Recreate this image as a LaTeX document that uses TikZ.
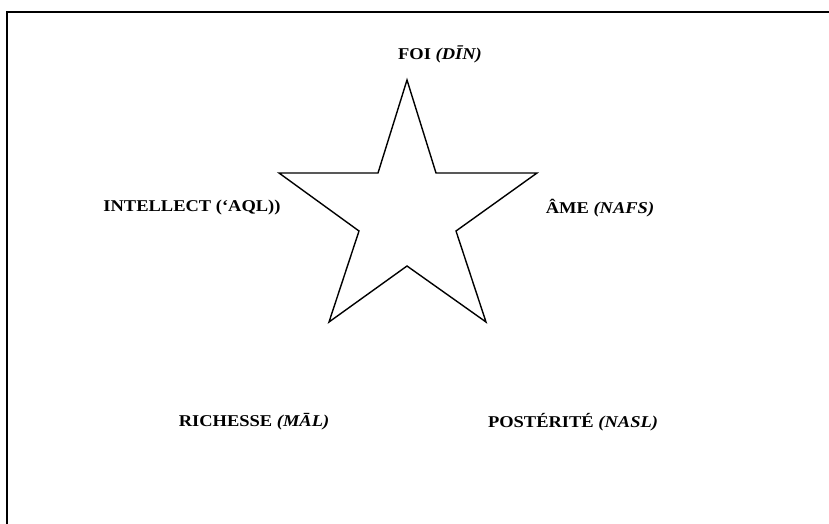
\documentclass[tikz,border=0pt]{standalone}
\usepackage{fontspec}
\setmainfont{Liberation Serif}
\usepackage{tikz}
\usetikzlibrary{positioning}
\tikzset{
  lbl/.style={font=\fontsize{16.5}{19}\selectfont\bfseries,inner sep=1pt,xscale=1.12,transform shape},
  frm/.style={draw=black,line width=1.6pt},
  stroke/.style={draw=black,line width=1.4pt,line join=miter},
}
\begin{document}
\begin{tikzpicture}[x=1pt,y=-1pt]
\useasboundingbox (0,0) rectangle (829,524);
\draw[frm] (7,524) -- (7,12) -- (829,12);
% star
\draw[stroke] (407,80) -- (436,173) -- (537,173) -- (456,231) -- (486,322)
  -- (407,266) -- (329,322) -- (359,231) -- (279,173) -- (378,173) -- cycle;
\node[lbl] (foi) at (440,54) {FOI \textit{(DĪN)}};
\node[lbl] (aql) at (192,208) {INTELLECT (‘AQL))};
\node[lbl] (nafs) at (600,208) {ÂME \textit{(NAFS)}};
\node[lbl] (mal) at (254,422) {RICHESSE \textit{(MĀL)}};
\node[lbl] (nasl) at (573,422) {POSTÉRITÉ \textit{(NASL)}};
\end{tikzpicture}
\end{document}
